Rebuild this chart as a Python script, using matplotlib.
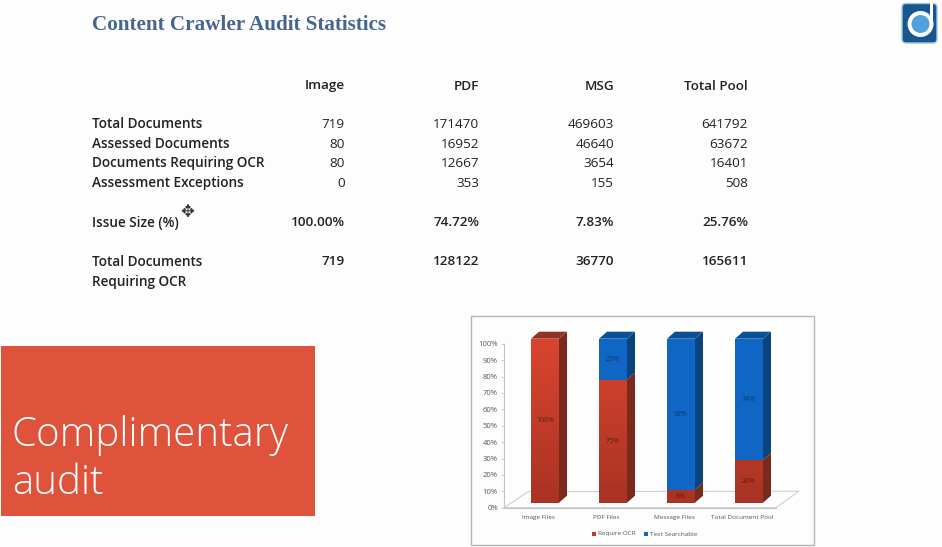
import matplotlib
matplotlib.use('Agg')
import matplotlib.pyplot as plt
from matplotlib.colors import LinearSegmentedColormap
from matplotlib.patches import Rectangle, Polygon, FancyBboxPatch, Circle
import numpy as np

W, H = 942, 547

# table on the slide
title = 'Content Crawler Audit Statistics'
columns = ['Image', 'PDF', 'MSG', 'Total Pool']
row_labels = ['Total Documents', 'Assessed Documents', 'Documents Requiring OCR', 'Assessment Exceptions',
              'Issue Size (%)', 'Total Documents\nRequiring OCR']
image_col = ['719', '80', '80', '0', '100.00%', '719']
pdf_col = ['171470', '16952', '12667', '353', '74.72%', '128122']
msg_col = ['469603', '46640', '3654', '155', '7.83%', '36770']
total_col = ['641792', '63672', '16401', '508', '25.76%', '165611']
bold_rows = ['Issue Size (%)', 'Total Documents\nRequiring OCR']

# stacked chart
categories = ['Image Files', 'PDF Files', 'Message Files', 'Total Document Pool']
require_ocr = [100, 75, 8, 26]
text_searchable = [0, 25, 92, 74]
y_ticks = [0, 10, 20, 30, 40, 50, 60, 70, 80, 90, 100]

plt.rcParams['font.family'] = ['Open Sans', 'DejaVu Sans']

fig = plt.figure(figsize=(W / 100, H / 100), dpi=100, facecolor='#fdfdfd')
slide = fig.add_axes([0, 0, 1, 1])
slide.set_xlim(0, W)
slide.set_ylim(H, 0)
slide.axis('off')

slide.text(92, 24.5, title, family='Liberation Serif', fontweight='bold', fontsize=15.2,
           color='#46668f', va='center')

# table
text_col = '#222222'
col_x = [345, 479, 614, 748]
row_y = [124, 144, 163, 183, 222, 261]
for x, name in zip(col_x, columns):
    slide.text(x, 86, name, ha='right', va='center', fontsize=9.7, fontweight='semibold', color=text_col)
for i, label in enumerate(row_labels):
    slide.text(92, row_y[i] - 6.5, label, va='top', fontsize=9.8, fontweight='semibold',
               color=text_col, linespacing=1.6)
    weight = 'semibold' if label in bold_rows else 'normal'
    for x, col in zip(col_x, [image_col, pdf_col, msg_col, total_col]):
        slide.text(x, row_y[i] + 0.5, col[i], ha='right', va='center', fontsize=9.7, fontweight=weight, color=text_col)

# cursor
slide.text(187, 213, '\u2725', ha='center', va='center', fontsize=12, color='#333333')

# red box
slide.add_patch(Rectangle((1, 346), 314, 170, fc='#df523c', ec='none'))
slide.text(12, 435, 'Complimentary', color='white', fontsize=29, fontweight='light', va='center')
slide.text(12, 483, 'audit', color='white', fontsize=29, fontweight='light', va='center')

# logo
slide.add_patch(FancyBboxPatch((902, 3.5), 35, 39.5, boxstyle='round,pad=0,rounding_size=4',
                               fc='#17568f', ec='#a5c8e0', lw=1))
slide.add_patch(Circle((920.5, 24), 13, fc='white', ec='none'))
slide.add_patch(Rectangle((929.5, 3), 3.5, 21, fc='white', ec='none'))
slide.add_patch(Circle((920.5, 24), 9, fc='#4fa0dc', ec='none'))

# chart frame
slide.add_patch(Rectangle((470.5, 315.5), 343, 229, fc='#fdfdfd', ec='#b5b5b5', lw=1))

# chart axes: x 504..776 px, y 0% at 507.7 and 100% at 343.7
ax = fig.add_axes([504 / W, 1 - 507.7 / H, 272 / W, 164 / H])
ax.patch.set_alpha(0)
for side in ['top', 'right']:
    ax.spines[side].set_visible(False)
ax.spines['left'].set_color('#c4c4c4')
ax.spines['bottom'].set_color('#c4c4c4')
ax.spines['left'].set_linewidth(0.8)
ax.spines['bottom'].set_linewidth(0.8)
ax.set_yticks(y_ticks)
ax.set_yticklabels([f'{v}%' for v in y_ticks])
ax.set_xticks(np.arange(len(categories)) + 0.5)
ax.set_xticklabels(categories)
ax.tick_params(axis='y', labelsize=5.5, colors='#555555', length=2, width=0.6, pad=2.5, color='#c4c4c4')
ax.tick_params(axis='x', labelsize=4.6, colors='#555555', length=0, pad=5.5)

# depth of the fake 3D, in data units (1 unit x = 68 px, 1 unit y = 1.64 px)
dx, dy = 8 / 68, 7 / 1.64
x_shift, y_shift = 7 / 68, 5 / 1.64
bar_w = 28 / 68
red_fade = LinearSegmentedColormap.from_list('red_fade', ['#a93324', '#d9452e'])


def draw_block(x, y0, y1, front, side, top=None, gradient=False, zorder=3):
    bars = ax.bar(x, y1 - y0, bottom=y0, width=bar_w, color=front, zorder=zorder, clip_on=False)
    if gradient:
        # fade runs over the whole chart height so every red block shares it
        im = ax.imshow(np.linspace(0, 1, 100).reshape(-1, 1), origin='lower', cmap=red_fade, aspect='auto',
                       extent=(x - bar_w / 2, x + bar_w / 2, y_shift, 100 + y_shift), zorder=zorder, clip_on=True)
        im.set_clip_path(bars[0])
    right = x + bar_w / 2
    ax.add_patch(Polygon([(right, y0), (right + dx, y0 + dy), (right + dx, y1 + dy), (right, y1)],
                         fc=side, ec='none', zorder=zorder, clip_on=False))
    if top:
        left = x - bar_w / 2
        ax.add_patch(Polygon([(left, y1), (left + dx, y1 + dy), (right + dx, y1 + dy), (right, y1)],
                             fc=top, ec='none', zorder=zorder, clip_on=False))


# floor of the 3D chart
floor = [(0, 0), (24 / 68, 16 / 1.64), (295 / 68, 16.5 / 1.64), (4.0, 0)]
ax.add_patch(Polygon(floor, fc='none', ec='#cfcfcf', lw=0.8, clip_on=False, zorder=1))

for i, (ocr, txt) in enumerate(zip(require_ocr, text_searchable)):
    x = i + 0.5 + x_shift
    if ocr:
        draw_block(x, y_shift, ocr + y_shift, '#c8402b', '#7a2a1c', '#8f3325' if txt == 0 else None, gradient=True)
        ax.text(x, ocr / 2 + y_shift, f'{ocr}%', ha='center', va='center', fontsize=5, color='#5c1d12', zorder=5)
    if txt:
        draw_block(x, ocr + y_shift, ocr + txt + y_shift, '#0f66c4', '#0a447f', '#0b4f96')
        ax.text(x, ocr + txt / 2 + y_shift, f'{txt}%', ha='center', va='center', fontsize=5, color='#0a3c70', zorder=5)

ax.set_xlim(0, 4)
ax.set_ylim(0, 100)

# legend
slide.add_patch(Rectangle((592, 532), 3.5, 3.5, fc='#b83a28', ec='none'))
slide.text(597.5, 534, 'Require OCR', fontsize=4.6, color='#555555', va='center')
slide.add_patch(Rectangle((644, 532), 3.5, 3.5, fc='#0f66c4', ec='none'))
slide.text(649.5, 534, 'Text Searchable', fontsize=4.6, color='#555555', va='center')

fig.savefig('out.png', dpi=100, facecolor=fig.get_facecolor())
